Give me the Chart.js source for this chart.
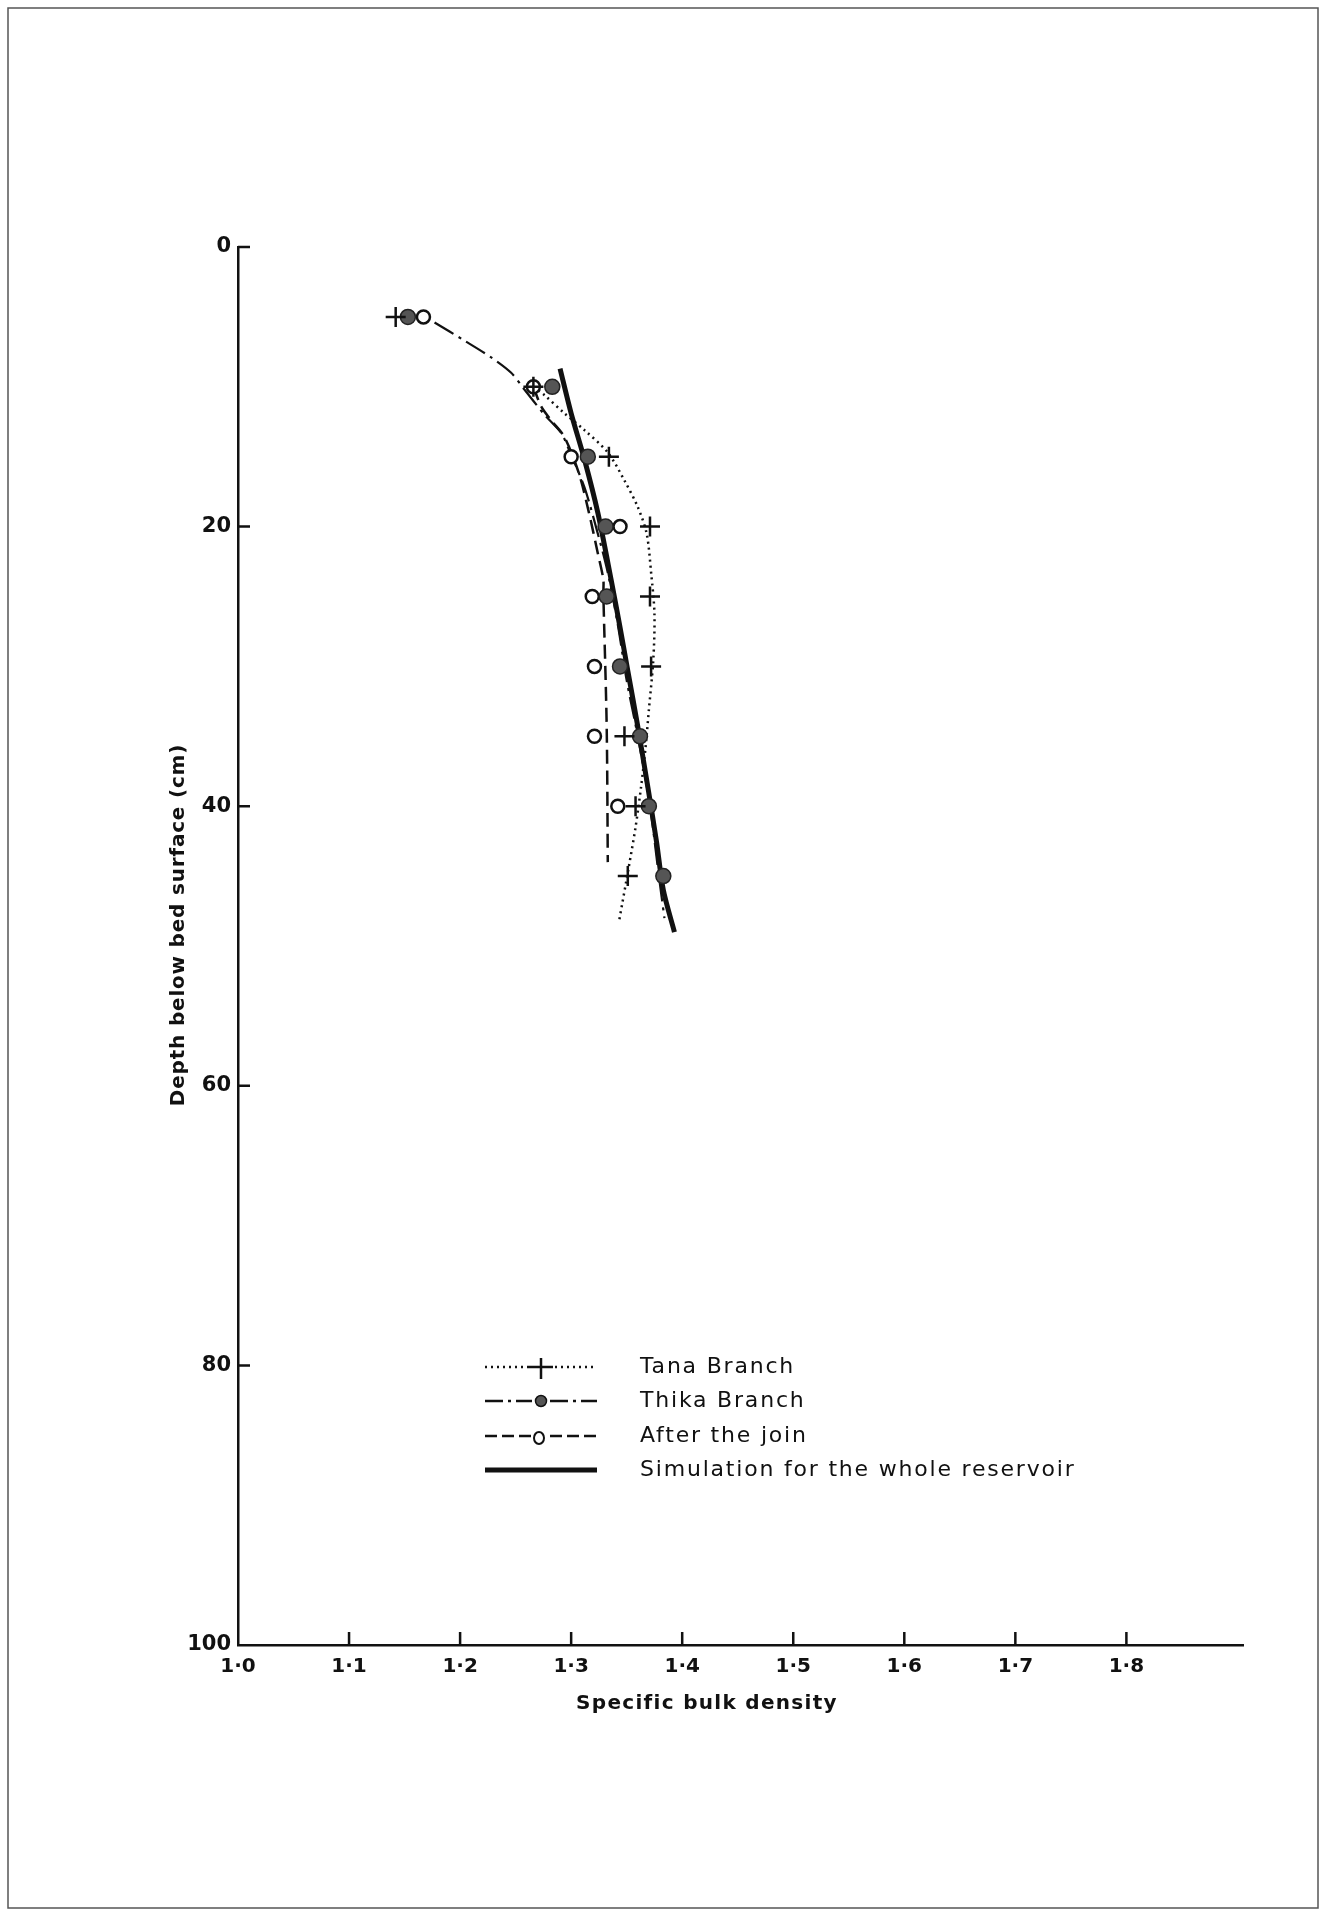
<!DOCTYPE html>
<html>
<head>
<meta charset="utf-8">
<script src="https://cdn.jsdelivr.net/npm/chart.js@4.4.1/dist/chart.umd.min.js"></script>
<style>
html, body { margin: 0; padding: 0; background: #fff; }
#wrap { width: 1328px; height: 1911px; position: relative; }
</style>
</head>
<body>
<div id="wrap"><canvas id="myChart" width="1328" height="1911"></canvas></div>
<script>
/* ---------- data ---------- */
const densityTicks = [1.0, 1.1, 1.2, 1.3, 1.4, 1.5, 1.6, 1.7, 1.8];
const depthTicks = [0, 20, 40, 60, 80, 100];

// measured points
const tanaDepth = [5, 10, 15, 20, 25, 30, 35, 40, 45];
const tanaDensity = [1.142, 1.266, 1.334, 1.371, 1.371, 1.372, 1.348, 1.358, 1.351];
const thikaDepth = [5, 10, 15, 20, 25, 30, 35, 40, 45];
const thikaDensity = [1.153, 1.283, 1.315, 1.331, 1.332, 1.344, 1.362, 1.370, 1.383];
const joinDepth = [5, 10, 15, 20, 25, 30, 35, 40];
const joinDensity = [1.167, 1.266, 1.300, 1.344, 1.319, 1.321, 1.321, 1.342];

// fitted curves
const tanaCurveDepth = [10, 10.6, 11.9, 13.1, 14.7, 16.7, 18.6, 20.5, 23.3, 26.2, 29.5, 33.1, 35.8, 38.6, 41.5, 44.3, 48.3];
const tanaCurveDensity = [1.266, 1.276, 1.294, 1.312, 1.333, 1.348, 1.360, 1.368, 1.372, 1.375, 1.374, 1.370, 1.367, 1.363, 1.358, 1.352, 1.343];
const thikaCurveDepth = [5.4, 6.7, 7.9, 9.0, 10.1, 12.0, 13.3, 14.5, 17.2, 20.5, 23.3, 27, 31, 35, 40, 45, 48];
const thikaCurveDensity = [1.177, 1.204, 1.228, 1.246, 1.257, 1.276, 1.291, 1.298, 1.312, 1.324, 1.333, 1.342, 1.350, 1.360, 1.371, 1.379, 1.384];
const joinCurveDepth = [10, 11.4, 12.4, 13.6, 16.2, 19.0, 21.9, 23.8, 24.8, 34.3, 44.0];
const joinCurveDensity = [1.266, 1.273, 1.282, 1.294, 1.307, 1.316, 1.324, 1.329, 1.329, 1.332, 1.333];
const simDepth = [8.7, 11.9, 15.2, 19.0, 23.8, 27.2, 30.3, 34.3, 38.6, 42.6, 46.0, 49];
const simDensity = [1.290, 1.300, 1.312, 1.324, 1.336, 1.344, 1.351, 1.360, 1.369, 1.377, 1.383, 1.393];

const legendLabels = ['Tana Branch', 'Thika Branch', 'After the join', 'Simulation for the whole reservoir'];

function pairs(xs, ys) {
    return xs.map(function(v, i) { return { x: v, y: ys[i] }; });
}

const INK = '#111';

/* ---------- extra drawing: frame, inward ticks, titles, legend ---------- */
const paperPlugin = {
    id: 'paper',
    beforeDraw(chart) {
        const ctx = chart.ctx;
        ctx.save();
        ctx.fillStyle = '#fff';
        ctx.fillRect(0, 0, chart.width, chart.height);
        ctx.strokeStyle = '#555';
        ctx.lineWidth = 1.5;
        ctx.strokeRect(8, 8, 1310, 1900);
        ctx.restore();
    },
    afterDraw(chart) {
        const ctx = chart.ctx;
        const xs = chart.scales.x, ys = chart.scales.y;
        ctx.save();
        ctx.strokeStyle = INK;
        ctx.lineWidth = 2.5;
        ctx.beginPath();
        densityTicks.slice(1).forEach(function(v) {
            const px = xs.getPixelForValue(v);
            ctx.moveTo(px, ys.bottom);
            ctx.lineTo(px, ys.bottom - 13);
        });
        depthTicks.slice(0, -1).forEach(function(v) {
            const py = ys.getPixelForValue(v);
            ctx.moveTo(xs.left, py);
            ctx.lineTo(xs.left + 12, py);
        });
        ctx.stroke();

        // axis titles
        ctx.fillStyle = INK;
        ctx.font = 'bold 20px "DejaVu Sans"';
        ctx.textAlign = 'center';
        ctx.textBaseline = 'middle';
        ctx.letterSpacing = '1.3px';
        ctx.fillText('Specific bulk density', 707, 1704);
        ctx.save();
        ctx.translate(179, 925);
        ctx.rotate(-Math.PI / 2);
        ctx.letterSpacing = '0.8px';
        ctx.fillText('Depth below bed surface (cm)', 0, 0);
        ctx.restore();
        ctx.letterSpacing = '0px';

        // legend
        const rows = [1367, 1401, 1436, 1470];
        const x0 = 485, x1 = 597, xm = 541;
        ctx.lineCap = 'butt';

        // Tana: dotted with +
        ctx.lineWidth = 2.5;
        ctx.setLineDash([2, 4]);
        ctx.beginPath();
        ctx.moveTo(x0, rows[0]); ctx.lineTo(xm - 12, rows[0]);
        ctx.moveTo(xm + 14, rows[0]); ctx.lineTo(x1, rows[0]);
        ctx.stroke();
        ctx.setLineDash([]);
        ctx.beginPath();
        ctx.moveTo(xm - 12, rows[0]); ctx.lineTo(xm + 12, rows[0]);
        ctx.moveTo(xm, rows[0] - 9); ctx.lineTo(xm, rows[0] + 12);
        ctx.stroke();

        // Thika: dash-dot with filled dot
        ctx.setLineDash([18, 5, 3, 5]);
        ctx.beginPath();
        ctx.moveTo(x0, rows[1]); ctx.lineTo(xm - 9, rows[1]);
        ctx.moveTo(xm + 9, rows[1]); ctx.lineTo(x1, rows[1]);
        ctx.stroke();
        ctx.setLineDash([]);
        ctx.fillStyle = '#555';
        ctx.beginPath();
        ctx.arc(xm, rows[1], 5.5, 0, Math.PI * 2);
        ctx.fill();
        ctx.lineWidth = 1.5;
        ctx.stroke();

        // After the join: dashed with open circle
        ctx.lineWidth = 2.5;
        ctx.setLineDash([12, 5]);
        ctx.beginPath();
        ctx.moveTo(x0, rows[2]); ctx.lineTo(xm - 9, rows[2]);
        ctx.moveTo(xm + 9, rows[2]); ctx.lineTo(x1, rows[2]);
        ctx.stroke();
        ctx.setLineDash([]);
        ctx.lineWidth = 2;
        ctx.beginPath();
        ctx.ellipse(xm - 2, rows[2] + 2, 5, 6, 0, 0, Math.PI * 2);
        ctx.stroke();

        // Simulation: thick solid
        ctx.lineWidth = 5;
        ctx.beginPath();
        ctx.moveTo(x0, rows[3]); ctx.lineTo(x1, rows[3]);
        ctx.stroke();

        ctx.fillStyle = INK;
        ctx.font = '22px "DejaVu Sans"';
        ctx.textAlign = 'left';
        ctx.letterSpacing = '1.8px';
        legendLabels.forEach(function(t, i) {
            ctx.fillText(t, 640, rows[i]);
        });
        ctx.restore();
    }
};

const ctx = document.getElementById('myChart').getContext('2d');
const myChart = new Chart(ctx, {
    type: 'scatter',
    data: {
        datasets: [{
            label: 'Simulation for the whole reservoir',
            data: pairs(simDensity, simDepth),
            showLine: true,
            borderColor: INK,
            borderWidth: 5,
            pointRadius: 0,
            tension: 0.3,
            order: 3
        }, {
            label: 'Tana curve',
            data: pairs(tanaCurveDensity, tanaCurveDepth),
            showLine: true,
            borderColor: INK,
            borderWidth: 2.5,
            borderDash: [2, 4],
            pointRadius: 0,
            tension: 0.3,
            order: 2
        }, {
            label: 'Thika curve',
            data: pairs(thikaCurveDensity, thikaCurveDepth),
            showLine: true,
            borderColor: INK,
            borderWidth: 2.2,
            borderDash: [22, 6, 3, 6],
            pointRadius: 0,
            tension: 0.3,
            order: 2
        }, {
            label: 'Join curve',
            data: pairs(joinCurveDensity, joinCurveDepth),
            showLine: true,
            borderColor: INK,
            borderWidth: 2.5,
            borderDash: [14, 7],
            pointRadius: 0,
            tension: 0.3,
            order: 2
        }, {
            label: 'Tana Branch',
            data: pairs(tanaDensity, tanaDepth),
            pointStyle: 'cross',
            pointRadius: 10,
            borderColor: INK,
            borderWidth: 2.5,
            order: 0
        }, {
            label: 'Thika Branch',
            data: pairs(thikaDensity, thikaDepth),
            pointStyle: 'circle',
            pointRadius: 7.5,
            backgroundColor: '#555',
            borderColor: '#222',
            borderWidth: 1.5,
            order: 1
        }, {
            label: 'After the join',
            data: pairs(joinDensity, joinDepth),
            pointStyle: 'circle',
            pointRadius: 6.5,
            backgroundColor: '#fff',
            borderColor: INK,
            borderWidth: 2.5,
            order: 1
        }]
    },
    options: {
        responsive: false,
        animation: false,
        events: [],
        layout: {
            padding: { top: 247, right: 85, left: 0, bottom: 0 }
        },
        plugins: {
            legend: { display: false },
            tooltip: { enabled: false },
            title: { display: false }
        },
        scales: {
            x: {
                type: 'linear',
                position: 'bottom',
                min: 1.0,
                max: 1.905,
                afterFit: function(scale) { scale.height = 266; },
                afterBuildTicks: function(scale) {
                    scale.ticks = densityTicks.map(function(v) { return { value: v }; });
                },
                grid: { display: false, drawTicks: false },
                border: { display: true, color: INK, width: 2.5 },
                ticks: {
                    padding: 10,
                    color: INK,
                    font: { family: 'DejaVu Sans', size: 20, weight: 'bold' },
                    callback: function(v) { return v.toFixed(1).replace('.', '\u00b7'); }
                }
            },
            y: {
                type: 'linear',
                position: 'left',
                reverse: true,
                min: 0,
                max: 100,
                afterFit: function(scale) { scale.width = 238; },
                afterBuildTicks: function(scale) {
                    scale.ticks = depthTicks.map(function(v) { return { value: v }; });
                },
                grid: { display: false, drawTicks: false },
                border: { display: true, color: INK, width: 2.5 },
                ticks: {
                    padding: 7,
                    color: INK,
                    font: { family: 'DejaVu Sans', size: 21, weight: 'bold' }
                }
            }
        }
    },
    plugins: [paperPlugin]
});
</script>
</body>
</html>
